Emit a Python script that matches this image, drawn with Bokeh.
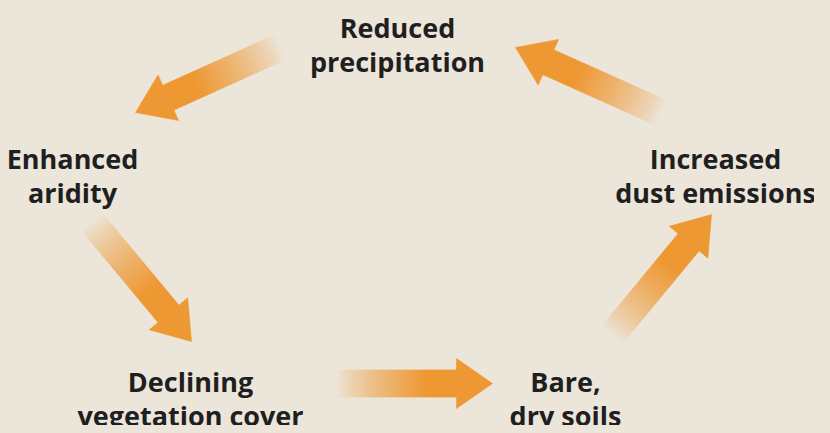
import numpy as np
from bokeh.plotting import figure
from bokeh.models import Range1d
from bokeh.core.properties import value
from bokeh.embed import file_html
from bokeh.resources import INLINE

# ---- diagram content ----
stage_line1 = ["Reduced", "Increased", "Bare,", "Declining", "Enhanced"]
stage_line2 = ["precipitation", "dust emissions", "dry soils", "vegetation cover", "aridity"]
# label anchor (centre x, first-line baseline y) in page pixels
stage_x = [405, 723, 573, 198, 80]
stage_y = [35, 166, 389, 389, 166]

# arrows: tail (faded) -> tip
arrow_tail_x = [287, 668, 620, 345, 100]
arrow_tail_y = [55, 120, 342, 391, 230]
arrow_tip_x = [143, 523, 719, 500, 199]
arrow_tip_y = [120, 55, 222, 391, 349]

BG = "#ECE5D9"
ORANGE = "#EE9833"
TEXT = "#1F1F1F"
FONT = "Open Sans"

def hex2rgb(h):
    h = h.lstrip("#")
    return np.array([int(h[i:i + 2], 16) for i in (0, 2, 4)], dtype=float)

def rgb2hex(c):
    return "#%02x%02x%02x" % tuple(int(round(v)) for v in c)

bg_rgb, or_rgb = hex2rgb(BG), hex2rgb(ORANGE)

p = figure(width=814, height=425, x_range=Range1d(8, 822), y_range=Range1d(433, 8),
           output_backend="svg", toolbar_location=None, min_border=0)
p.axis.visible = False
p.grid.visible = False
p.outline_line_color = None
p.background_fill_color = BG
p.border_fill_color = BG

head_len, head_w, shaft_w = 36, 50, 27
N = 40
xs_all, ys_all, cols = [], [], []
for tx, ty, hx, hy in zip(arrow_tail_x, arrow_tail_y, arrow_tip_x, arrow_tip_y):
    T = np.array([tx, ty], float)
    H = np.array([hx, hy], float)
    d = H - T
    L = np.linalg.norm(d)
    u = d / L
    n = np.array([-u[1], u[0]])
    B = H - u * head_len
    shaft_len = L - head_len
    for i in range(N):
        s0 = shaft_len * i / N
        s1 = min(shaft_len * (i + 1) / N + 1.0, shaft_len + 1.0)
        f = (i + 0.5) / N
        t = min(1.0, f / 0.75)
        a = t ** 0.8
        c = bg_rgb * (1 - a) + or_rgb * a
        P0 = T + u * s0
        P1 = T + u * s1
        pts = [P0 + n * shaft_w / 2, P1 + n * shaft_w / 2, P1 - n * shaft_w / 2, P0 - n * shaft_w / 2]
        xs_all.append([q[0] for q in pts])
        ys_all.append([q[1] for q in pts])
        cols.append(rgb2hex(c))
    pts = [B + n * head_w / 2, H, B - n * head_w / 2]
    xs_all.append([q[0] for q in pts])
    ys_all.append([q[1] for q in pts])
    cols.append(ORANGE)

p.patches(xs_all, ys_all, fill_color=cols, line_color=cols, line_width=0.6)

p.text(x=stage_x, y=stage_y, text=stage_line1, text_align="center", text_baseline="alphabetic",
       text_font=value(FONT), text_font_style="bold", text_font_size="27px", text_color=TEXT)
p.text(x=stage_x, y=[y + 34 for y in stage_y], text=stage_line2, text_align="center",
       text_baseline="alphabetic", text_font=value(FONT), text_font_style="bold",
       text_font_size="27px", text_color=TEXT)

html = file_html(p, INLINE)
html = html.replace("<head>", "<head><style>html,body{background:%s;overflow:hidden;}</style>" % BG, 1)
open("out.html", "w").write(html)
